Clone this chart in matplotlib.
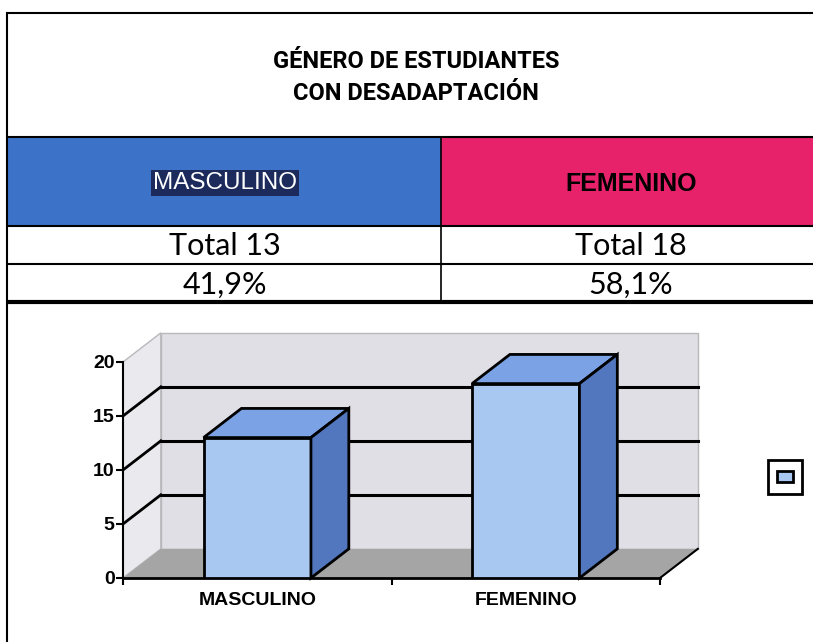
import matplotlib
matplotlib.use('Agg')
import matplotlib.pyplot as plt
from matplotlib.patches import Polygon, Rectangle, Patch

# data
categories = ['MASCULINO', 'FEMENINO']
counts = [13, 18]
yticks = [0, 5, 10, 15, 20]
title_lines = ['GÉNERO DE ESTUDIANTES', 'CON DESADAPTACIÓN']

# colours
BLUE_HDR = '#3C72C8'
PINK_HDR = '#E8216B'
NAVY = '#1C2B5C'
FRONT = '#A8C8F2'
TOP = '#7BA2E4'
SIDE = '#5277BE'
BACK_WALL = '#DFDFE5'
SIDE_WALL = '#EAEAEE'
FLOOR = '#A5A5A5'
WALL_EDGE = '#B8B8BC'

W, H = 813, 642
fig = plt.figure(figsize=(W / 100, H / 100), dpi=100)

# ---- table part, laid out in pixel units ----
tab = fig.add_axes([0, 0, 1, 1], zorder=0)
tab.set_xlim(0, W)
tab.set_ylim(H, 0)
tab.axis('off')

L, R, MID = 7, W + 5, 441
y_top, y_hdr, y_tot, y_pct, y_end = 13, 137, 226, 264, 302

tab.add_patch(Rectangle((L, y_hdr), MID - L, y_tot - y_hdr, facecolor=BLUE_HDR, edgecolor='none'))
tab.add_patch(Rectangle((MID, y_hdr), R - MID, y_tot - y_hdr, facecolor=PINK_HDR, edgecolor='none'))

for y, lw in [(y_top, 1.5), (y_hdr, 1.5), (y_tot, 1.5), (y_pct, 1.5), (y_end, 3)]:
    tab.plot([L, R], [y, y], color='black', lw=lw, solid_capstyle='butt')
tab.plot([L, L], [y_top, H + 5], color='black', lw=1.5)
tab.plot([MID, MID], [y_hdr, y_end], color='black', lw=1.2)

title_font = ['Roboto', 'DejaVu Sans']
tab.text(416, 62, title_lines[0], ha='center', va='center', fontsize=17,
         fontweight='bold', family=title_font)
tab.text(416, 93, title_lines[1], ha='center', va='center', fontsize=17,
         fontweight='bold', family=title_font)

col_x = [225, 631]
tab.text(col_x[0], 183, categories[0], ha='center', va='center', fontsize=17.5,
         color='white', family=['Liberation Sans', 'DejaVu Sans'],
         bbox=dict(facecolor=NAVY, edgecolor='none', pad=1.5))
tab.text(col_x[1], 184, categories[1], ha='center', va='center', fontsize=18,
         fontweight='bold', color='black', family=['Liberation Sans', 'DejaVu Sans'])

total = sum(counts)
for cx, c in zip(col_x, counts):
    pct = f'{c / total * 100:.1f}%'.replace('.', ',')
    tab.text(cx, 246, f'Total {c}', ha='center', va='center', fontsize=22,
             family=['Lato', 'DejaVu Sans'])
    tab.text(cx, 285, pct, ha='center', va='center', fontsize=22,
             family=['Lato', 'DejaVu Sans'])

# ---- 3D-looking column chart ----
ax = fig.add_axes([123 / W, (H - 578) / H, 537 / W, 216 / H], zorder=2)
ax.patch.set_alpha(0)
ax.set_xlim(-0.5, 1.5)
ax.set_ylim(0, 20)

DX, DY = 0.141, 2.7   # depth offset of the back plane
BW = 0.4
x0, x1 = -0.5, 1.5
ymax = yticks[-1]

ax.add_patch(Polygon([(x0, 0), (x0 + DX, DY), (x0 + DX, ymax + DY), (x0, ymax)],
                     facecolor=SIDE_WALL, edgecolor=WALL_EDGE, lw=1, zorder=1, clip_on=False))
ax.add_patch(Rectangle((x0 + DX, DY), x1 - x0, ymax, facecolor=BACK_WALL,
                       edgecolor=WALL_EDGE, lw=1, zorder=1, clip_on=False))
ax.add_patch(Polygon([(x0, 0), (x1, 0), (x1 + DX, DY), (x0 + DX, DY)],
                     facecolor=FLOOR, edgecolor='none', zorder=1.5, clip_on=False))
ax.plot([x1, x1 + DX], [0, DY], color='black', lw=1.5, zorder=2, clip_on=False)

for t in yticks[1:-1]:
    ax.plot([x0, x0 + DX], [t, t + DY], color='black', lw=2, zorder=2, clip_on=False)
    ax.plot([x0 + DX, x1 + DX], [t + DY, t + DY], color='black', lw=2.2, zorder=2, clip_on=False)

xs = list(range(len(categories)))
ax.bar(xs, counts, width=BW, color=FRONT, edgecolor='black', linewidth=2, zorder=4)
for x, v in zip(xs, counts):
    l, r = x - BW / 2, x + BW / 2
    ax.add_patch(Polygon([(l, v), (r, v), (r + DX, v + DY), (l + DX, v + DY)],
                         facecolor=TOP, edgecolor='black', lw=2, zorder=4, clip_on=False))
    ax.add_patch(Polygon([(r, 0), (r + DX, DY), (r + DX, v + DY), (r, v)],
                         facecolor=SIDE, edgecolor='black', lw=2, zorder=4, clip_on=False))

for s in ['top', 'right']:
    ax.spines[s].set_visible(False)
ax.spines['left'].set_linewidth(1.5)
ax.spines['bottom'].set_linewidth(2)

ax.set_yticks(yticks)
ax.set_xticks(xs)
ax.set_xticklabels(categories)
ax.set_xticks([-0.5, 0.5, 1.5], minor=True)
ax.tick_params(axis='y', direction='out', length=5, width=1.5, pad=1, labelsize=14)
ax.tick_params(axis='x', which='major', length=0, pad=10, labelsize=14)
ax.tick_params(axis='x', which='minor', direction='out', length=5, width=1.5)
for lab in ax.get_xticklabels() + ax.get_yticklabels():
    lab.set_fontweight('bold')
    lab.set_family(['Liberation Sans', 'DejaVu Sans'])

handle = Patch(facecolor=FRONT, edgecolor='black', lw=2)
leg = fig.legend([handle], [''], loc='center', bbox_to_anchor=(785 / W, 1 - 477 / H),
                 fancybox=False, edgecolor='black', framealpha=1,
                 handlelength=1.1, handleheight=0.85, handletextpad=0,
                 borderpad=0.7, borderaxespad=0)
leg.get_frame().set_linewidth(2)

fig.savefig('out.png', dpi=100)
